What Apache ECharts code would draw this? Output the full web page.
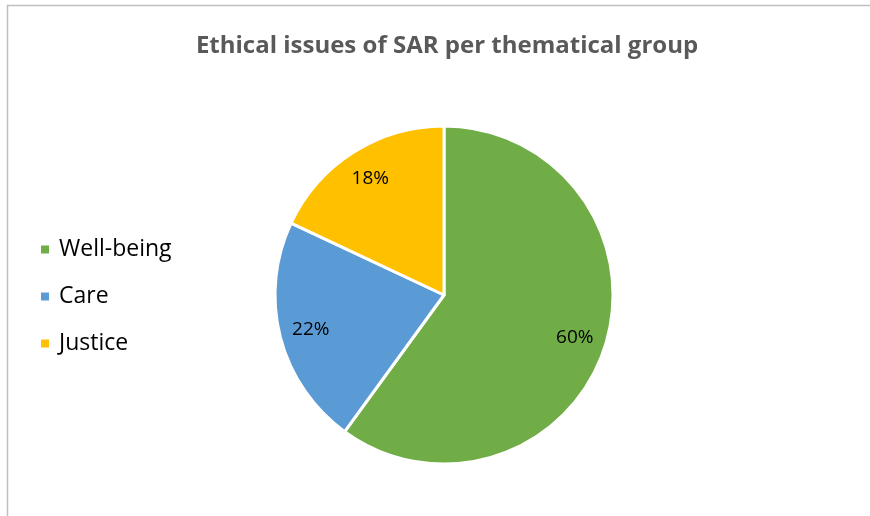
<!DOCTYPE html>
<html>
<head>
<meta charset="utf-8">
<script src="https://cdn.jsdelivr.net/npm/echarts@6/dist/echarts.min.js"></script>
<style>
  html, body { margin: 0; padding: 0; background: #fff; }
  #chart { width: 870px; height: 516px; }
</style>
</head>
<body>
<div id="chart"></div>
<script>
// Thematical groups and their share of ethical issues (%)
const categories = ['Well-being', 'Care', 'Justice'];
const shares = [60, 22, 18];
const colors = ['#70AD47', '#5B9BD5', '#FFC000'];

const titleText = 'Ethical issues of SAR per thematical group';
const fontFamily = '"Open Sans", Lato, sans-serif';

const pieData = categories.map((name, i) => ({
  name: name,
  value: shares[i],
  itemStyle: { color: colors[i] }
}));

const chart = echarts.init(document.getElementById('chart'), null, { renderer: 'canvas' });

const center = [444, 295];
const outerR = 169;

chart.setOption({
  animation: false,
  backgroundColor: '#ffffff',
  title: {
    text: titleText,
    left: 442,
    textAlign: 'center',
    top: 29,
    textStyle: {
      fontFamily: fontFamily,
      fontWeight: 'bold',
      fontSize: 24,
      color: '#595959'
    }
  },
  legend: {
    orient: 'vertical',
    left: 34,
    top: 233,
    itemWidth: 10,
    itemHeight: 10,
    itemGap: 24,
    icon: 'rect',
    data: categories,
    textStyle: {
      fontFamily: fontFamily,
      fontSize: 23,
      color: '#000000',
      padding: [0, 0, 0, 4]
    }
  },
  graphic: [
    {
      type: 'polyline',
      silent: true,
      shape: { points: [[7.5, 516], [7.5, 5.5], [870, 5.5]] },
      style: { stroke: '#BFBFBF', lineWidth: 1.5, fill: null }
    }
  ],
  series: [
    {
      name: 'Thematical group',
      type: 'pie',
      center: center,
      radius: [0, outerR],
      startAngle: 90,
      clockwise: true,
      data: pieData,
      itemStyle: { borderColor: '#ffffff', borderWidth: 3 },
      label: { show: false },
      labelLine: { show: false },
      emphasis: { disabled: true }
    },
    {
      // Transparent ring that carries the percentage labels at ~80% of the radius
      name: 'Labels',
      type: 'pie',
      center: center,
      radius: [100, outerR],
      startAngle: 90,
      clockwise: true,
      silent: true,
      legendHoverLink: false,
      data: pieData.map(d => ({ name: d.name, value: d.value, itemStyle: { color: 'rgba(0,0,0,0)' } })),
      itemStyle: { borderWidth: 0 },
      label: {
        show: true,
        position: 'inside',
        formatter: p => p.value + '%',
        fontFamily: fontFamily,
        fontSize: 19,
        color: '#000000'
      },
      labelLine: { show: false },
      emphasis: { disabled: true }
    }
  ]
});
</script>
</body>
</html>
